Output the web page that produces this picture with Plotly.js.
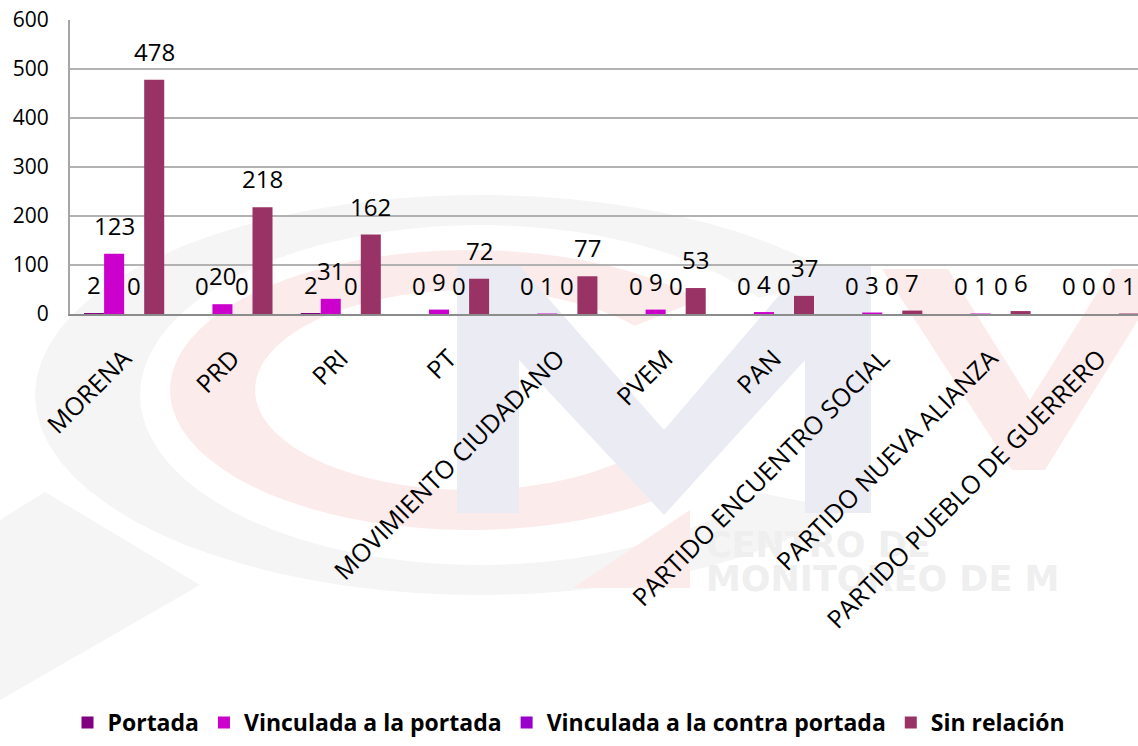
<!DOCTYPE html>
<html>
<head>
<meta charset="utf-8">
<script src="https://cdn.plot.ly/plotly-3.0.1.min.js"></script>
<style>html,body{margin:0;padding:0;background:#fff;}#chart{width:1138px;height:746px;}</style>
</head>
<body>
<div id="chart"></div>
<script>
// ---- data ----
const categories = ["MORENA", "PRD", "PRI", "PT", "MOVIMIENTO CIUDADANO", "PVEM", "PAN",
  "PARTIDO ENCUENTRO SOCIAL", "PARTIDO NUEVA ALIANZA", "PARTIDO PUEBLO DE GUERRERO"];
const seriesNames = ["Portada", "Vinculada a la portada", "Vinculada a la contra portada", "Sin relación"];
const portada = [2, 0, 2, 0, 0, 0, 0, 0, 0, 0];
const vinculadaPortada = [123, 20, 31, 9, 1, 9, 4, 3, 1, 0];
const vinculadaContra = [0, 0, 0, 0, 0, 0, 0, 0, 0, 0];
const sinRelacion = [478, 218, 162, 72, 77, 53, 37, 7, 6, 1];
const yTicks = [0, 100, 200, 300, 400, 500, 600];

// ---- style ----
const colors = ["#800080", "#CC00CC", "#9900CC", "#993366"];
const allSeries = [portada, vinculadaPortada, vinculadaContra, sinRelacion];
const bargap = 0.26;
const barW = (1 - bargap) / 4;

const traces = allSeries.map((vals, k) => ({
  type: "bar",
  name: seriesNames[k],
  x: categories,
  y: vals,
  marker: { color: colors[k] },
  hoverinfo: "skip"
}));

// data labels above each bar
const annotations = [];
allSeries.forEach((vals, k) => {
  vals.forEach((v, i) => {
    annotations.push({
      x: i + (k - 1.5) * barW, y: v, xref: "x", yref: "y",
      text: String(v), showarrow: false, yanchor: "bottom", xanchor: "center",
      yshift: 10,
      font: { family: "Open Sans", size: 24, color: "#000" }
    });
  });
});

// ---- watermark (decoration) ----
const L = 70, T = 20, PW = 1068, PH = 294;
function P(x, y) { return ((x - L) / PW).toFixed(5) + "," + ((T + PH - y) / PH).toFixed(5); }
function poly(pts) { return "M" + pts.map(p => P(p[0], p[1])).join("L") + "Z"; }
function ring(cx, cy, rxo, ryo, rxi, ryi, a0, a1) {
  const pts = [];
  const n = 60;
  for (let j = 0; j <= n; j++) { const t = (a0 + (a1 - a0) * j / n) * Math.PI / 180; pts.push([cx + rxo * Math.cos(t), cy + ryo * Math.sin(t)]); }
  for (let j = n; j >= 0; j--) { const t = (a0 + (a1 - a0) * j / n) * Math.PI / 180; pts.push([cx + rxi * Math.cos(t), cy + ryi * Math.sin(t)]); }
  return poly(pts);
}
const wm = (path, color) => ({ type: "path", xref: "paper", yref: "paper", path: path, fillcolor: color, line: { width: 0 }, layer: "below" });
const grey = "#f5f5f5", pink = "#fcebeb", blue = "#ebecf3", txt = "#efefef";
const shapes = [
  wm(ring(480, 395, 445, 200, 340, 170, 35, 325), grey),
  wm(poly([[0, 520], [45, 492], [200, 585], [0, 700]]), grey),
  wm(ring(470, 390, 300, 140, 215, 100, 45, 320), pink),
  wm(poly([[573, 588], [690, 588], [690, 510]]), pink),
  wm(poly([[457, 513], [457, 265], [519, 265], [664, 430], [805, 265], [871, 265], [871, 513], [805, 513], [805, 360], [664, 515], [519, 360], [519, 513]]), blue),
  wm(poly([[882, 269], [948, 269], [1030, 400], [1112, 269], [1138, 269], [1138, 320], [1045, 470], [1012, 470]]), pink),
  { type: "rect", xref: "paper", yref: "paper", x0: (700 - L) / PW, x1: (1005 - L) / PW, y0: (T + PH - 558) / PH, y1: (T + PH - 526) / PH,
    line: { width: 0 }, fillcolor: "rgba(0,0,0,0)", layer: "below",
    label: { text: "CENTRO DE", textposition: "middle left", font: { family: "DejaVu Sans", size: 35, color: txt, weight: "bold" } } },
  { type: "rect", xref: "paper", yref: "paper", x0: (700 - L) / PW, x1: (1138 - L) / PW, y0: (T + PH - 592) / PH, y1: (T + PH - 560) / PH,
    line: { width: 0 }, fillcolor: "rgba(0,0,0,0)", layer: "below",
    label: { text: "MONITOREO DE M", textposition: "middle left", font: { family: "DejaVu Sans", size: 35, color: txt, weight: "bold" } } }
];

const layout = {
  width: 1138, height: 746,
  margin: { l: L, r: 0, t: T, b: 746 - T - PH, pad: 0 },
  paper_bgcolor: "#ffffff",
  plot_bgcolor: "rgba(0,0,0,0)",
  barmode: "group",
  bargap: bargap,
  bargroupgap: 0,
  showlegend: true,
  legend: {
    orientation: "h", x: 0.5, xanchor: "center", xref: "container",
    y: 2 / 746, yref: "container", yanchor: "bottom",
    font: { family: "Open Sans", size: 23, color: "#000", weight: "bold" },
    itemclick: false, traceorder: "normal"
  },
  xaxis: {
    type: "category",
    range: [-0.5, -0.5 + PW / 108.3],
    tickangle: -45,
    tickfont: { family: "Open Sans", size: 25, color: "#000" },
    showgrid: false,
    showline: true, linecolor: "#8c8c8c", linewidth: 2,
    ticks: "", ticklabelstandoff: 18,
    fixedrange: true
  },
  yaxis: {
    range: [0, 600],
    tickvals: yTicks,
    tickfont: { family: "Open Sans", size: 21, color: "#000" },
    showgrid: true, gridcolor: "#b2b2b2", gridwidth: 2,
    showline: true, linecolor: "#a6a6a6", linewidth: 2,
    zeroline: false,
    ticks: "", ticklabelstandoff: 15,
    fixedrange: true
  },
  annotations: annotations,
  shapes: shapes,
  font: { family: "Open Sans" }
};

Plotly.newPlot("chart", traces, layout, { displayModeBar: false, staticPlot: true });
</script>
</body>
</html>
